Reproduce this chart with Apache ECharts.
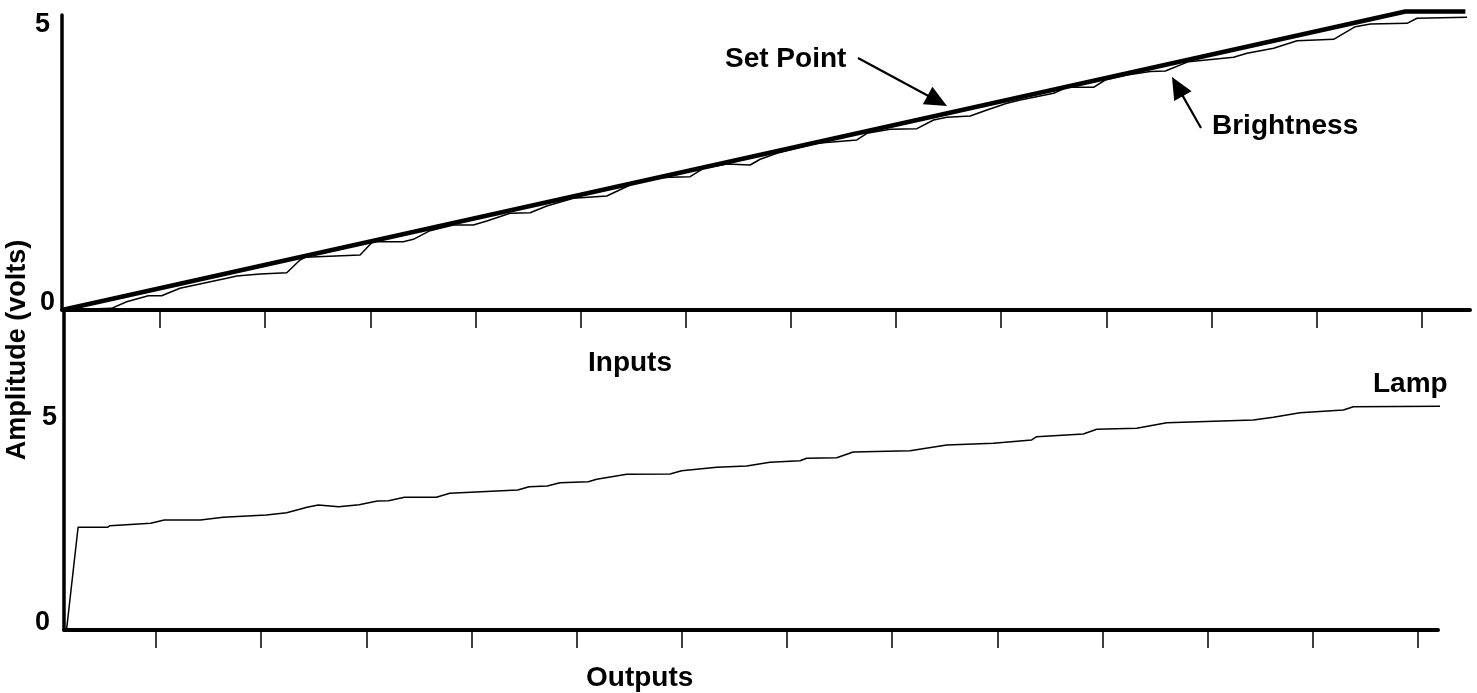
<!DOCTYPE html>
<html><head><meta charset="utf-8">
<script src="https://cdn.jsdelivr.net/npm/echarts@6/dist/echarts.min.js"></script>
<style>html,body{margin:0;padding:0;background:#fff}#c{width:1477px;height:693px}</style>
</head><body><div id="c"></div>
<script>
// ---- data (x in tick units, y in volts) ----
const setPointX = [0.067, 12.845, 13.416];
const setPointV = [0, 5.36, 5.36];

const brightnessX = [0.067,0.539,0.682,0.888,1.015,1.189,1.411,1.634,1.729,1.951,2.205,2.331,2.379,2.902,3.013,3.061,3.314,3.409,3.568,3.663,3.790,3.980,4.108,4.329,4.520,4.678,4.932,5.249,5.471,5.693,5.852,6.042,6.168,6.391,6.613,6.708,6.867,7.057,7.247,7.628,7.723,7.945,8.199,8.357,8.484,8.706,8.865,9.055,9.182,9.499,9.626,9.879,9.990,10.197,10.419,10.562,10.783,11.211,11.339,11.592,11.815,12.163,12.369,12.512,12.861,12.956,13.432];
const brightnessV = [0,0.03,0.149,0.257,0.257,0.390,0.479,0.569,0.610,0.646,0.670,0.898,0.946,0.987,1.208,1.226,1.226,1.269,1.424,1.467,1.526,1.526,1.598,1.736,1.747,1.867,2.005,2.047,2.244,2.364,2.382,2.393,2.544,2.621,2.603,2.706,2.813,2.903,2.993,3.052,3.172,3.244,3.255,3.411,3.460,3.483,3.591,3.711,3.770,3.891,3.998,3.998,4.129,4.219,4.282,4.291,4.458,4.537,4.609,4.698,4.835,4.860,5.086,5.135,5.147,5.237,5.255];

const lampX = [0.150,0.260,0.540,0.562,0.950,1.079,1.423,1.639,2.049,2.243,2.437,2.544,2.738,2.932,3.105,3.212,3.363,3.666,3.794,4.440,4.549,4.721,4.842,5.111,5.191,5.476,5.888,5.999,6.332,6.617,6.838,7.124,7.187,7.473,7.630,8.170,8.519,8.962,9.327,9.374,9.818,9.945,10.325,10.611,11.434,11.625,11.878,12.290,12.385,13.431];
const lampV = [0,2.499,2.499,2.538,2.596,2.676,2.676,2.742,2.798,2.854,2.985,3.041,3.000,3.049,3.139,3.146,3.229,3.229,3.326,3.406,3.487,3.504,3.584,3.608,3.667,3.788,3.796,3.876,3.959,3.990,4.080,4.119,4.178,4.192,4.331,4.363,4.501,4.543,4.623,4.703,4.769,4.883,4.908,5.044,5.109,5.175,5.287,5.353,5.433,5.450];

const topTicks = [1,2,3,4,5,6,7,8,9,10,11,12,13];
const bottomTicks = [1,2,3,4,5,6,7,8,9,10,11,12,13];
const yLabelValues = [0, 5];

const yAxisTitle = 'Amplitude (volts)';
const labelSetPoint = 'Set Point';
const labelBrightness = 'Brightness';
const labelInputs = 'Inputs';
const labelOutputs = 'Outputs';
const labelLamp = 'Lamp';

// ---- chart ----
const FAM = '"Liberation Sans", Arial, Helvetica, sans-serif';
const pairs = (xs, ys) => xs.map((x, i) => [x, ys[i]]);
const chart = echarts.init(document.getElementById('c'), null, {renderer: 'canvas'});

const tickFont = {fontSize: 27, fontWeight: 'bold', fontFamily: FAM, color: '#000'};

function xAxisCfg(grid, min, max, ticks) {
  return {
    gridIndex: grid, type: 'value', min: min, max: max,
    axisLine: {show: true, onZero: false, lineStyle: {color: '#000', width: 4}},
    axisTick: {show: true, customValues: ticks, length: 18, lineStyle: {color: '#000', width: 1.5}},
    axisLabel: {show: false}, splitLine: {show: false}
  };
}
function yAxisCfg(grid, max, rich, fmt) {
  return {
    gridIndex: grid, type: 'value', min: 0, max: max,
    axisLine: {show: true, onZero: false, lineStyle: {color: '#000', width: 3.5}},
    axisTick: {show: false}, splitLine: {show: false},
    axisLabel: {show: true, customValues: yLabelValues, margin: 7, formatter: fmt, rich: rich}
  };
}

function txt(text, x, y, size) {
  return {type: 'text', x: x, y: y, silent: true,
    style: {text: text, x: 0, y: 0, fill: '#000',
      font: 'bold ' + size + 'px ' + FAM,
      textAlign: 'left', textVerticalAlign: 'middle', align: 'left', verticalAlign: 'middle'}};
}
function arrow(x1, y1, x2, y2) {
  const dx = x2 - x1, dy = y2 - y1, len = Math.hypot(dx, dy);
  const ux = dx / len, uy = dy / len, L = 22, W = 10;
  const bx = x2 - L * ux, by = y2 - L * uy;
  return [
    {type: 'line', silent: true, shape: {x1: x1, y1: y1, x2: bx + 2 * ux, y2: by + 2 * uy},
      style: {stroke: '#000', lineWidth: 2.2}},
    {type: 'polygon', silent: true,
      shape: {points: [[x2, y2], [bx - W * uy, by + W * ux], [bx + W * uy, by - W * ux]]},
      style: {fill: '#000'}}
  ];
}

const option = {
  animation: false,
  backgroundColor: '#fff',
  grid: [
    {left: 62, top: 15, width: 1408, height: 295},
    {left: 64, top: 312, width: 1374, height: 318}
  ],
  xAxis: [
    xAxisCfg(0, 0.067, 13.46, topTicks),
    xAxisCfg(1, 0.126, 13.19, bottomTicks)
  ],
  yAxis: [
    yAxisCfg(0, 5.296, {
      a: Object.assign({padding: [0, 5, 14, 0]}, tickFont),
      b: Object.assign({padding: [0, 0, 14, 0]}, tickFont)
    }, v => v === 5 ? '{a|5}' : '{b|0}'),
    yAxisCfg(1, 7.737, {
      a: Object.assign({padding: [0, 0, 14, 0]}, tickFont),
      b: Object.assign({padding: [0, 7, 14, 0]}, tickFont)
    }, v => v === 5 ? '{a|5}' : '{b|0}')
  ],
  series: [
    {name: 'Set Point', type: 'line', xAxisIndex: 0, yAxisIndex: 0, data: pairs(setPointX, setPointV),
      symbol: 'none', clip: false, silent: true, lineStyle: {color: '#000', width: 4.5}},
    {name: 'Brightness', type: 'line', xAxisIndex: 0, yAxisIndex: 0, data: pairs(brightnessX, brightnessV),
      symbol: 'none', clip: false, silent: true, lineStyle: {color: '#000', width: 1.5}},
    {name: 'Lamp', type: 'line', xAxisIndex: 1, yAxisIndex: 1, data: pairs(lampX, lampV),
      symbol: 'none', clip: false, silent: true, lineStyle: {color: '#000', width: 1.5}}
  ],
  graphic: [
    {type: 'text', x: 18, y: 350, rotation: Math.PI / 2, silent: true,
      style: {text: yAxisTitle, x: 0, y: 0, fill: '#000', font: 'bold 27px ' + FAM,
        textAlign: 'center', textVerticalAlign: 'middle', align: 'center', verticalAlign: 'middle'}},
    txt(labelSetPoint, 725, 59, 28),
    txt(labelBrightness, 1212, 126, 28),
    txt(labelInputs, 588, 363, 28),
    txt(labelOutputs, 586, 678, 28),
    txt(labelLamp, 1373, 384, 28),
    ...arrow(858, 58, 947, 106),
    ...arrow(1201, 128, 1172, 77)
  ]
};
chart.setOption(option);
</script>
</body></html>
